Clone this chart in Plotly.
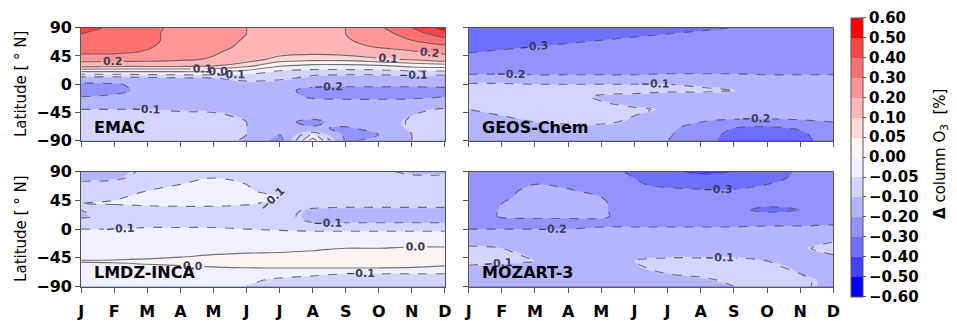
import numpy as np
import plotly.graph_objects as go

# ---------------- data ----------------
MONTHS = list(range(1, 13))
MONTH_LABELS = ['J', 'F', 'M', 'A', 'M', 'J', 'J', 'A', 'S', 'O', 'N', 'D']
LATS_N2S = [90, 80, 70, 60, 50, 40, 30, 20, 10, 0, -10, -20, -30, -40, -50, -60, -70, -80, -90]
LAT_TICKS = [-90, -45, 0, 45, 90]
LAT_TICK_LABELS = ['\u221290', '\u221245', '0', '45', '90']
LEVELS = [-0.6, -0.5, -0.4, -0.3, -0.2, -0.1, -0.05, 0.0, 0.05, 0.1, 0.2, 0.3, 0.4, 0.5, 0.6]
LEVEL_LABELS = ['\u22120.60', '\u22120.50', '\u22120.40', '\u22120.30', '\u22120.20', '\u22120.10',
                '\u22120.05', '0.00', '0.05', '0.10', '0.20', '0.30', '0.40', '0.50', '0.60']
MODEL_NAMES = ['EMAC', 'GEOS-Chem', 'LMDZ-INCA', 'MOZART-3']

# rows: latitude 90N -> 90S ; columns: Jan -> Dec
EMAC = [
    [0.48, 0.36, 0.32, 0.28, 0.24, 0.20, 0.17, 0.17, 0.20, 0.28, 0.40, 0.55],
    [0.40, 0.35, 0.32, 0.27, 0.24, 0.20, 0.17, 0.17, 0.20, 0.26, 0.34, 0.46],
    [0.35, 0.34, 0.32, 0.27, 0.24, 0.19, 0.16, 0.16, 0.19, 0.24, 0.30, 0.36],
    [0.33, 0.33, 0.31, 0.26, 0.23, 0.18, 0.15, 0.15, 0.17, 0.21, 0.24, 0.28],
    [0.31, 0.31, 0.29, 0.25, 0.21, 0.16, 0.12, 0.11, 0.12, 0.15, 0.18, 0.22],
    [0.25, 0.25, 0.24, 0.22, 0.19, 0.13, 0.08, 0.07, 0.07, 0.09, 0.11, 0.14],
    [0.13, 0.12, 0.12, 0.12, 0.11, 0.07, 0.01, -0.01, -0.01, 0.00, 0.02, 0.03],
    [0.00, 0.00, 0.00, 0.00, 0.00, -0.02, -0.06, -0.07, -0.07, -0.07, -0.06, -0.06],
    [-0.12, -0.12, -0.11, -0.10, -0.10, -0.09, -0.08, -0.12, -0.13, -0.13, -0.13, -0.13],
    [-0.22, -0.21, -0.17, -0.15, -0.15, -0.11, -0.15, -0.18, -0.18, -0.18, -0.18, -0.18],
    [-0.26, -0.23, -0.17, -0.16, -0.19, -0.17, -0.18, -0.22, -0.23, -0.23, -0.23, -0.22],
    [-0.20, -0.18, -0.16, -0.15, -0.16, -0.16, -0.17, -0.21, -0.22, -0.22, -0.22, -0.20],
    [-0.15, -0.14, -0.13, -0.12, -0.13, -0.15, -0.16, -0.17, -0.17, -0.17, -0.16, -0.15],
    [-0.10, -0.10, -0.10, -0.11, -0.11, -0.13, -0.15, -0.16, -0.16, -0.15, -0.12, -0.09],
    [-0.08, -0.08, -0.08, -0.08, -0.09, -0.11, -0.15, -0.17, -0.16, -0.14, -0.10, -0.07],
    [-0.07, -0.07, -0.07, -0.07, -0.08, -0.10, -0.18, -0.22, -0.17, -0.14, -0.09, -0.07],
    [-0.07, -0.07, -0.07, -0.07, -0.07, -0.10, -0.16, -0.19, -0.21, -0.17, -0.09, -0.07],
    [-0.07, -0.07, -0.07, -0.07, -0.06, -0.10, -0.20, -0.05, -0.22, -0.20, -0.10, -0.07],
    [-0.07, -0.07, -0.07, -0.08, -0.05, -0.12, -0.23, 0.03, -0.21, -0.18, -0.10, -0.07],
]

GEOS_CHEM = [
    [-0.36, -0.36, -0.36, -0.35, -0.34, -0.33, -0.32, -0.31, -0.30, -0.29, -0.29, -0.29],
    [-0.35, -0.35, -0.34, -0.33, -0.32, -0.31, -0.30, -0.29, -0.28, -0.28, -0.28, -0.29],
    [-0.34, -0.33, -0.32, -0.31, -0.30, -0.29, -0.28, -0.27, -0.27, -0.27, -0.27, -0.27],
    [-0.32, -0.31, -0.30, -0.29, -0.28, -0.27, -0.26, -0.26, -0.26, -0.26, -0.26, -0.26],
    [-0.30, -0.29, -0.28, -0.27, -0.27, -0.26, -0.25, -0.25, -0.25, -0.25, -0.25, -0.25],
    [-0.28, -0.27, -0.26, -0.26, -0.25, -0.25, -0.24, -0.24, -0.24, -0.24, -0.24, -0.24],
    [-0.25, -0.25, -0.24, -0.24, -0.23, -0.23, -0.23, -0.23, -0.23, -0.23, -0.23, -0.23],
    [-0.22, -0.22, -0.22, -0.22, -0.22, -0.22, -0.21, -0.21, -0.21, -0.22, -0.22, -0.22],
    [-0.17, -0.17, -0.18, -0.18, -0.18, -0.18, -0.18, -0.18, -0.18, -0.18, -0.18, -0.18],
    [-0.09, -0.09, -0.10, -0.10, -0.10, -0.10, -0.10, -0.11, -0.12, -0.14, -0.15, -0.15],
    [-0.07, -0.07, -0.07, -0.07, -0.08, -0.08, -0.09, -0.09, -0.098, -0.13, -0.14, -0.14],
    [-0.06, -0.06, -0.07, -0.08, -0.11, -0.12, -0.13, -0.13, -0.13, -0.13, -0.13, -0.13],
    [-0.06, -0.06, -0.07, -0.08, -0.095, -0.12, -0.13, -0.13, -0.13, -0.13, -0.13, -0.12],
    [-0.10, -0.08, -0.07, -0.07, -0.08, -0.09, -0.11, -0.13, -0.13, -0.13, -0.13, -0.13],
    [-0.12, -0.10, -0.08, -0.08, -0.08, -0.10, -0.13, -0.15, -0.16, -0.16, -0.16, -0.16],
    [-0.13, -0.12, -0.10, -0.09, -0.09, -0.11, -0.15, -0.20, -0.23, -0.24, -0.22, -0.20],
    [-0.14, -0.13, -0.12, -0.12, -0.12, -0.14, -0.18, -0.24, -0.30, -0.32, -0.29, -0.22],
    [-0.15, -0.14, -0.13, -0.13, -0.13, -0.15, -0.19, -0.25, -0.33, -0.35, -0.32, -0.24],
    [-0.15, -0.14, -0.14, -0.14, -0.14, -0.16, -0.20, -0.26, -0.34, -0.36, -0.33, -0.25],
]

LMDZ_INCA = [
    [-0.13, -0.12, -0.09, -0.07, -0.06, -0.07, -0.08, -0.08, -0.08, -0.09, -0.11, -0.11],
    [-0.12, -0.11, -0.08, -0.06, -0.05, -0.06, -0.07, -0.08, -0.08, -0.08, -0.09, -0.09],
    [-0.08, -0.08, -0.07, -0.05, -0.04, -0.05, -0.07, -0.07, -0.08, -0.08, -0.08, -0.08],
    [-0.07, -0.06, -0.05, -0.04, -0.04, -0.045, -0.065, -0.07, -0.07, -0.07, -0.07, -0.07],
    [-0.06, -0.055, -0.04, -0.035, -0.035, -0.04, -0.05, -0.065, -0.07, -0.07, -0.07, -0.07],
    [-0.05, -0.045, -0.04, -0.035, -0.035, -0.045, -0.06, -0.07, -0.07, -0.07, -0.07, -0.07],
    [-0.10, -0.08, -0.07, -0.07, -0.07, -0.07, -0.08, -0.11, -0.12, -0.12, -0.12, -0.12],
    [-0.11, -0.08, -0.07, -0.07, -0.07, -0.08, -0.09, -0.11, -0.12, -0.12, -0.12, -0.12],
    [-0.07, -0.07, -0.065, -0.065, -0.065, -0.07, -0.08, -0.10, -0.10, -0.10, -0.10, -0.10],
    [-0.05, -0.05, -0.045, -0.045, -0.045, -0.05, -0.055, -0.06, -0.06, -0.06, -0.06, -0.06],
    [-0.03, -0.03, -0.03, -0.03, -0.03, -0.03, -0.03, -0.03, -0.03, -0.03, -0.03, -0.03],
    [-0.02, -0.02, -0.02, -0.02, -0.02, -0.02, -0.02, -0.02, -0.02, -0.02, -0.02, -0.02],
    [-0.02, -0.02, -0.02, -0.015, -0.015, -0.01, -0.01, -0.005, 0.0, 0.0, 0.005, 0.005],
    [-0.015, -0.015, -0.01, -0.005, 0.0, 0.003, 0.005, 0.008, 0.01, 0.01, 0.012, 0.012],
    [0.002, 0.003, 0.005, 0.008, 0.01, 0.012, 0.014, 0.015, 0.016, 0.016, 0.016, 0.016],
    [-0.01, -0.008, -0.005, -0.003, -0.001, 0.002, 0.004, 0.005, 0.005, 0.004, 0.0, -0.005],
    [-0.02, -0.02, -0.02, -0.02, -0.02, -0.03, -0.04, -0.045, -0.05, -0.05, -0.05, -0.05],
    [-0.03, -0.03, -0.03, -0.035, -0.04, -0.045, -0.055, -0.06, -0.06, -0.06, -0.06, -0.06],
    [-0.04, -0.04, -0.04, -0.045, -0.045, -0.05, -0.06, -0.065, -0.065, -0.065, -0.065, -0.065],
]

MOZART_3 = [
    [-0.26, -0.25, -0.25, -0.26, -0.28, -0.31, -0.38, -0.42, -0.40, -0.34, -0.29, -0.27],
    [-0.26, -0.25, -0.24, -0.25, -0.27, -0.30, -0.35, -0.37, -0.36, -0.33, -0.28, -0.27],
    [-0.25, -0.23, -0.20, -0.22, -0.25, -0.29, -0.32, -0.33, -0.33, -0.30, -0.27, -0.26],
    [-0.25, -0.22, -0.18, -0.19, -0.23, -0.27, -0.28, -0.29, -0.29, -0.27, -0.26, -0.26],
    [-0.24, -0.21, -0.18, -0.18, -0.20, -0.25, -0.26, -0.27, -0.27, -0.27, -0.26, -0.25],
    [-0.24, -0.20, -0.18, -0.18, -0.19, -0.24, -0.25, -0.26, -0.28, -0.29, -0.28, -0.25],
    [-0.24, -0.195, -0.18, -0.18, -0.19, -0.24, -0.25, -0.26, -0.29, -0.31, -0.30, -0.25],
    [-0.23, -0.195, -0.19, -0.19, -0.19, -0.23, -0.24, -0.25, -0.27, -0.28, -0.27, -0.24],
    [-0.22, -0.22, -0.22, -0.22, -0.22, -0.22, -0.22, -0.22, -0.22, -0.22, -0.22, -0.21],
    [-0.20, -0.20, -0.20, -0.20, -0.19, -0.19, -0.19, -0.19, -0.19, -0.18, -0.18, -0.18],
    [-0.15, -0.15, -0.16, -0.16, -0.16, -0.16, -0.16, -0.16, -0.16, -0.15, -0.14, -0.13],
    [-0.12, -0.12, -0.13, -0.14, -0.14, -0.14, -0.14, -0.14, -0.14, -0.13, -0.12, -0.10],
    [-0.09, -0.10, -0.11, -0.13, -0.13, -0.13, -0.13, -0.13, -0.13, -0.13, -0.11, -0.08],
    [-0.08, -0.09, -0.11, -0.13, -0.13, -0.12, -0.11, -0.11, -0.11, -0.12, -0.12, -0.10],
    [-0.08, -0.09, -0.10, -0.13, -0.13, -0.10, -0.09, -0.09, -0.09, -0.10, -0.12, -0.12],
    [-0.11, -0.12, -0.13, -0.14, -0.14, -0.11, -0.08, -0.08, -0.08, -0.09, -0.11, -0.12],
    [-0.13, -0.13, -0.14, -0.14, -0.14, -0.13, -0.10, -0.09, -0.08, -0.08, -0.10, -0.12],
    [-0.13, -0.14, -0.14, -0.15, -0.15, -0.14, -0.12, -0.11, -0.09, -0.08, -0.09, -0.12],
    [-0.14, -0.14, -0.15, -0.15, -0.15, -0.15, -0.13, -0.12, -0.10, -0.09, -0.09, -0.12],
]

PANEL_DATA = [EMAC, GEOS_CHEM, LMDZ_INCA, MOZART_3]

# ---------------- styling helpers ----------------
W, H = 957, 321
FONT = 'DejaVu Sans'


def bwr(t):
    # blue-white-red map, slightly lightened to match the reference rendering
    if t < 0.5:
        f = t / 0.5
        v = int(round(255 * f ** 0.7))
        return (v, v, 255)
    f = (t - 0.5) / 0.5
    v = int(round(255 * (1 - f) ** 0.7))
    return (255, v, v)


NB = len(LEVELS) - 1
band_colors = ['rgb(%d,%d,%d)' % bwr(int(i * 255 / (NB - 1)) / 255) for i in range(NB)]

# contour fill colorscale (plotly maps it over [start - size/2, end + size/2])
fill_cs = []
for i, c in enumerate(band_colors):
    lo = 0.0 if i == 0 else (i + 0.25) / (NB + 1)
    hi = 1.0 if i == NB - 1 else (i + 1.25) / (NB + 1)
    fill_cs += [[lo, c], [hi, c]]

# colorbar colorscale over [0, NB]
cb_cs = []
for i, c in enumerate(band_colors):
    cb_cs += [[i / NB, c], [(i + 1) / NB, c]]

# panel geometry in pixels (left, right, top, bottom)
PANELS = [
    (78, 446, 20, 141),
    (470, 839, 20, 141),
    (78, 446, 174, 297),
    (470, 839, 174, 297),
]

fig = go.Figure()
lats = LATS_N2S[::-1]
LINE_COLOR = 'rgba(80,80,90,0.8)'
LABEL_FONT = dict(family=FONT, size=11, color='#3c3c5a', weight='bold')

for k, data in enumerate(PANEL_DATA):
    suf = '' if k == 0 else str(k + 1)
    z = np.array(data, dtype=float)[::-1]
    zi = np.interp(z, LEVELS, np.arange(len(LEVELS)))
    fig.add_trace(go.Contour(
        x=MONTHS, y=lats, z=zi, xaxis='x' + suf, yaxis='y' + suf,
        colorscale=fill_cs, showscale=False, hoverinfo='skip',
        contours=dict(start=0, end=NB, size=1, coloring='fill', showlines=False),
        line=dict(width=0),
    ))
    for start, end, size, dash in [(-0.6, -0.1, 0.1, 'dash'), (-0.05, -0.05, 1, 'dash'),
                                   (0.0, 0.6, 0.1, 'solid'), (0.05, 0.05, 1, 'solid')]:
        fig.add_trace(go.Contour(
            x=MONTHS, y=lats, z=z, xaxis='x' + suf, yaxis='y' + suf,
            showscale=False, hoverinfo='skip',
            contours=dict(start=start, end=end, size=size, coloring='none',
                          showlabels=True, labelfont=LABEL_FONT, labelformat='.1f'),
            line=dict(color=LINE_COLOR, width=1.1, dash=dash),
        ))

# dummy heatmap only for the colorbar (placed outside the visible ranges)
fig.add_trace(go.Heatmap(
    z=[[0, NB]], x=[-100, -99], y=[-500], xaxis='x', yaxis='y',
    zmin=0, zmax=NB, colorscale=cb_cs, hoverinfo='skip',
    colorbar=dict(
        tickmode='array', tickvals=list(range(len(LEVELS))), ticktext=LEVEL_LABELS,
        tickfont=dict(family=FONT, size=15, color='black', weight='bold'),
        thickness=12, thicknessmode='pixels',
        len=279, lenmode='pixels',
        x=857 / W, xanchor='left', xpad=0,
        y=(H - 158.5) / H, yanchor='middle', ypad=0,
        outlinewidth=1, outlinecolor='#555',
        ticks='outside', ticklen=3, tickcolor='#555',
    ),
))

layout = dict(
    width=W, height=H, margin=dict(l=0, r=0, t=0, b=0),
    paper_bgcolor='white', plot_bgcolor='white', showlegend=False,
)
annotations = []
for k, (l, r, t, b) in enumerate(PANELS):
    suf = '' if k == 0 else str(k + 1)
    xa = dict(domain=[l / W, r / W], range=[1, 12], anchor='y' + suf,
              tickmode='array', tickvals=MONTHS, ticktext=MONTH_LABELS,
              showticklabels=(k >= 2), ticklabelstandoff=5,
              tickfont=dict(family=FONT, size=16, color='black', weight='bold'),
              ticks='outside', ticklen=5, tickcolor='#555', tickwidth=1,
              showline=True, linecolor='#555', linewidth=1, mirror=True,
              showgrid=False, zeroline=False)
    ya = dict(domain=[(H - b) / H, (H - t) / H], range=[-90, 90], anchor='x' + suf,
              tickmode='array', tickvals=LAT_TICKS, ticktext=LAT_TICK_LABELS,
              showticklabels=(k % 2 == 0),
              tickfont=dict(family=FONT, size=16, color='black', weight='bold'),
              ticks='outside', ticklen=5, tickcolor='#555', tickwidth=1,
              showline=True, linecolor='#555', linewidth=1, mirror=True,
              showgrid=False, zeroline=False)
    layout['xaxis' + suf] = xa
    layout['yaxis' + suf] = ya
    annotations.append(dict(
        text='<b>%s</b>' % MODEL_NAMES[k], xref='x%s domain' % suf, yref='y%s domain' % suf,
        x=0.03, y=0.02, xanchor='left', yanchor='bottom', showarrow=False,
        font=dict(family=FONT, size=16, color='black'),
    ))
    if k % 2 == 0:
        annotations.append(dict(
            text='Latitude [ \u00b0 N]', xref='paper', yref='paper',
            x=17 / W, y=(H - (t + b) / 2) / H, xanchor='center', yanchor='middle',
            textangle=-90, showarrow=False,
            font=dict(family=FONT, size=15, color='black'),
        ))

annotations.append(dict(
    text='<b>\u0394</b> column O<sub>3</sub>  [%]', xref='paper', yref='paper',
    x=948 / W, y=(H - 155) / H, xanchor='center', yanchor='middle',
    textangle=-90, showarrow=False,
    font=dict(family=FONT, size=15, color='black'),
))
layout['annotations'] = annotations
fig.update_layout(**layout)

fig.write_html('out.html')
